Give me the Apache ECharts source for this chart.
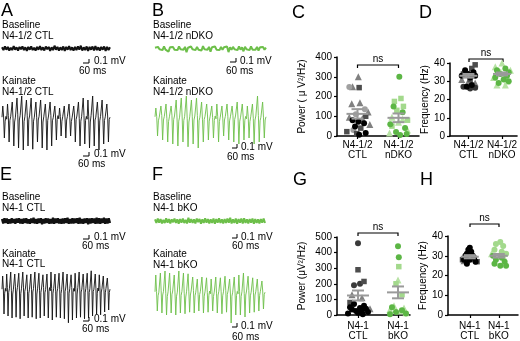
<!DOCTYPE html>
<html>
<head>
<meta charset="utf-8">
<script src="https://cdn.jsdelivr.net/npm/echarts@6/dist/echarts.min.js"></script>
<style>
  html, body { margin: 0; padding: 0; background: #fff; }
  #chart { width: 520px; height: 341px; }
</style>
</head>
<body>
<div id="chart"></div>
<script>
// ---- traces (mV) ----
const aBase = [0.03,-0.04,0.05,-0.03,0.04,-0.05,0.02,-0.04,0.06,-0.03,0.03,-0.05,0.04,-0.02,0.05,-0.04,0.03,-0.06,0.04,-0.03,0.05,-0.04,0.02,-0.05,0.04,-0.03,0.06,-0.04,0.03,-0.05,0.05,-0.02,0.04,-0.06,0.03,-0.04,0.07,-0.03,0.04,-0.05,0.03,-0.04,0.05,-0.06,0.04,-0.03,0.06,-0.04,0.03,-0.05,0.04,-0.04,0.05,-0.03,0.07,-0.05,0.03,-0.04,0.05,-0.06,0.04,-0.03,0.05,-0.05,0.06,-0.04,0.03,-0.05,0.04,-0.03,0.05,-0.06,0.04,-0.04,0.03];
const aKai = [
    0.02,0.3,0.05,-0.5,-0.08,0.04, -0.03,0.35,0.06,-0.6,-0.06,0.03, 0.05,0.4,-0.02,-0.7,-0.1,0.02,
    0.0,0.5,0.08,-0.75,-0.05,0.06, 0.04,0.55,0.0,-0.8,-0.09,0.03, -0.02,0.45,0.07,-0.7,-0.04,0.05,
    0.03,0.5,-0.03,-0.78,-0.08,0.02, 0.06,0.4,0.02,-0.6,-0.05,0.04, -0.01,0.45,0.05,-0.75,-0.1,0.03,
    0.04,0.35,-0.02,-0.8,-0.06,0.05, 0.02,0.4,0.06,-0.7,-0.07,0.01, 0.05,0.3,0.0,-0.55,-0.04,0.06,
    -0.02,0.25,0.04,-0.45,-0.08,0.03, 0.03,0.3,-0.03,-0.5,-0.05,0.04, 0.06,0.35,0.02,-0.45,-0.09,0.02,
    0.0,0.3,0.05,-0.6,-0.04,0.05, 0.04,0.4,-0.01,-0.7,-0.08,0.03, 0.02,0.5,0.06,-0.65,-0.06,0.04,
    -0.03,0.45,0.03,-0.75,-0.1,0.06, 0.05,0.55,0.0,-0.7,-0.05,0.02, 0.01,0.4,0.07,-0.8,-0.07,0.04,
    0.04,0.45,-0.02,-0.65,-0.06,0.03, 0.03,0.35,0.05,-0.6,-0.04,0.02];
const bBase = [0.02,-0.03,0.04,-0.02,0.03,-0.04,0.05,-0.03,0.02,-0.08,0.03,-0.02,0.04,-0.03,0.02,-0.04,0.05,-0.02,0.03,-0.03,0.04,-0.09,0.02,-0.03,0.05,-0.02,0.03,-0.04,0.04,-0.03,0.02,-0.05,0.06,-0.02,0.03,-0.03,0.04,-0.08,0.03,-0.02,0.05,-0.03,0.02,-0.04,0.04,-0.03,0.03,-0.02,0.05,-0.09,0.03,-0.03,0.04,-0.02,0.02,-0.04,0.05,-0.03,0.03,-0.07,0.04,-0.02,0.03,-0.04,0.05,-0.03,0.02,-0.03,0.04,-0.05,0.03,-0.02,0.04,-0.03,0.02];
const bKai = [
    0.03,0.25,0.04,-0.45,-0.07,0.02, -0.02,0.3,0.06,-0.55,-0.05,0.04, 0.05,0.35,-0.01,-0.6,-0.09,0.03,
    0.01,0.3,0.07,-0.65,-0.04,0.05, 0.04,0.45,0.0,-0.7,-0.08,0.02, -0.03,0.5,0.05,-0.6,-0.06,0.04,
    0.02,0.55,-0.02,-0.72,-0.1,0.03, 0.06,0.45,0.03,-0.65,-0.05,0.05, 0.0,0.5,0.06,-0.75,-0.07,0.02,
    0.04,0.4,-0.03,-0.6,-0.04,0.04, 0.03,0.35,0.05,-0.55,-0.08,0.03, 0.05,0.3,0.01,-0.5,-0.06,0.05,
    -0.02,0.35,0.04,-0.6,-0.09,0.02, 0.03,0.3,-0.02,-0.45,-0.05,0.04, 0.06,0.35,0.03,-0.55,-0.07,0.03,
    0.01,0.3,0.06,-0.6,-0.04,0.05, 0.04,0.4,0.0,-0.65,-0.08,0.02, 0.02,0.35,0.05,-0.55,-0.06,0.04,
    -0.02,0.3,0.03,-0.5,-0.09,0.03, 0.05,0.35,-0.01,-0.65,-0.05,0.05, 0.02,0.55,0.06,-0.6,-0.07,0.02,
    0.04,0.4,0.02,-0.5,-0.05,0.03];
const eBase = [0.05,-0.06,0.07,-0.05,0.06,-0.07,0.04,-0.06,0.07,-0.05,0.05,-0.07,0.06,-0.04,0.07,-0.06,0.05,-0.07,0.06,-0.05,0.07,-0.06,0.04,-0.07,0.06,-0.05,0.08,-0.06,0.05,-0.07,0.06,-0.05,0.07,-0.08,0.05,-0.06,0.07,-0.05,0.06,-0.07,0.05,-0.06,0.08,-0.07,0.06,-0.05,0.07,-0.06,0.05,-0.07,0.06,-0.06,0.07,-0.05,0.08,-0.07,0.05,-0.06,0.07,-0.06,0.06,-0.05,0.07,-0.07,0.08,-0.06,0.05,-0.07,0.06,-0.05,0.07,-0.08,0.06,-0.06,0.07,-0.05,0.06,-0.07,0.08,-0.06,0.07,-0.07,0.06,-0.05,0.08,-0.07,0.06,-0.06,0.07,-0.05];
const eKai = [
    0.02,0.35,0.05,-0.6,-0.08,0.04, -0.03,0.4,0.06,-0.65,-0.06,0.03, 0.05,0.45,-0.02,-0.7,-0.1,0.02,
    0.0,0.4,0.08,-0.68,-0.05,0.06, 0.04,0.42,0.0,-0.72,-0.09,0.03, -0.02,0.45,0.07,-0.65,-0.04,0.05,
    0.03,0.38,-0.03,-0.7,-0.08,0.02, 0.06,0.4,0.02,-0.68,-0.05,0.04, -0.01,0.45,0.05,-0.72,-0.1,0.03,
    0.04,0.42,-0.02,-0.7,-0.06,0.05, 0.02,0.38,0.06,-0.65,-0.07,0.01, 0.05,0.4,0.0,-0.7,-0.04,0.06,
    -0.02,0.45,0.04,-0.75,-0.08,0.03, 0.03,0.4,-0.03,-0.68,-0.05,0.04, 0.06,0.42,0.02,-0.7,-0.09,0.02,
    0.0,0.45,0.05,-0.72,-0.04,0.05, 0.04,0.4,-0.01,-0.82,-0.08,0.03, 0.02,0.38,0.06,-0.75,-0.06,0.04,
    -0.03,0.42,0.03,-0.7,-0.1,0.06, 0.05,0.45,0.0,-0.68,-0.05,0.02, 0.01,0.4,0.07,-0.72,-0.07,0.04,
    0.04,0.42,-0.02,-0.7,-0.06,0.03, 0.03,0.48,0.05,-0.65,-0.04,0.02, 0.02,0.4,0.04,-0.6,-0.08,0.05,
    -0.02,0.38,0.06,-0.62,-0.05,0.03, 0.04,0.35,0.01,-0.55,-0.07,0.04, 0.03,0.3,0.05,-0.5,-0.06,0.02];
const fBase = [0.04,-0.05,0.06,-0.04,0.05,-0.06,0.03,-0.05,0.07,-0.04,0.05,-0.06,0.04,-0.03,0.06,-0.05,0.04,-0.07,0.05,-0.04,0.06,-0.05,0.03,-0.06,0.08,-0.04,0.05,-0.05,0.04,-0.06,0.06,-0.03,0.05,-0.07,0.04,-0.05,0.07,-0.04,0.05,-0.06,0.04,-0.05,0.06,-0.07,0.05,-0.04,0.07,-0.05,0.04,-0.06,0.05,-0.05,0.06,-0.04,0.08,-0.06,0.04,-0.05,0.06,-0.07,0.05,-0.04,0.06,-0.06,0.07,-0.05,0.04,-0.06,0.05,-0.04,0.06,-0.07,0.05,-0.05,0.04,-0.06,0.05,-0.04,0.06,-0.05];
const fKai = [
    0.03,0.45,0.04,-0.45,-0.07,0.02, -0.02,0.5,0.06,-0.5,-0.05,0.04, 0.05,0.55,-0.01,-0.55,-0.09,0.03,
    0.01,0.5,0.07,-0.5,-0.04,0.05, 0.04,0.45,0.0,-0.55,-0.08,0.02, -0.03,0.55,0.05,-0.5,-0.06,0.04,
    0.02,0.5,-0.02,-0.52,-0.1,0.03, 0.06,0.48,0.03,-0.48,-0.05,0.05, 0.0,0.4,0.06,-0.5,-0.07,0.02,
    0.04,0.35,-0.03,-0.45,-0.04,0.04, 0.03,0.4,0.05,-0.5,-0.08,0.03, 0.05,0.38,0.01,-0.48,-0.06,0.05,
    -0.02,0.35,0.04,-0.45,-0.09,0.02, 0.03,0.4,-0.02,-0.5,-0.05,0.04, 0.06,0.38,0.03,-0.52,-0.07,0.03,
    0.01,0.42,0.06,-0.48,-0.04,0.05, 0.04,0.35,0.0,-0.75,-0.08,0.02, 0.02,0.4,0.05,-0.55,-0.06,0.04,
    -0.02,0.45,0.03,-0.55,-0.09,0.03, 0.05,0.5,-0.01,-0.6,-0.05,0.05, 0.02,0.42,0.06,-0.5,-0.07,0.02,
    0.04,0.38,0.02,-0.48,-0.05,0.03, 0.03,0.35,0.04,-0.45,-0.06,0.04, 0.01,0.3,0.05,-0.4,-0.04,0.02];

// ---- C: power, N4-1/2 (values + horizontal jitter) ----
const cCtlBlack = [80, 72, 65, 48, 15, 6];
const cCtlBlackJit = [-0.12, 0.02, 0.16, -0.06, 0.2, 0.04];
const cCtlSquare = [245, 100, 40, 22, 12];
const cCtlSquareJit = [0.04, 0.2, 0.08, -0.26, -0.02];
const cCtlTri = [300, 250, 168, 163, 122, 95, 88, 58];
const cCtlTriJit = [0.02, -0.12, 0.06, -0.14, 0.26, -0.2, 0.12, 0.3];
const cCtlGray = [248, 135, 110, 30];
const cCtlGrayJit = [-0.2, 0.18, -0.04, -0.1];
const cKoCircle = [300, 150, 120, 60, 40, 20, 10, 5];
const cKoCircleJit = [0.02, -0.12, 0.1, -0.2, 0.16, -0.06, 0.2, 0.04];
const cKoSquare = [190, 175, 150, 130, 80, 50];
const cKoSquareJit = [0.06, -0.1, 0.12, -0.04, 0.22, -0.16];
const cKoTri = [95, 85, 70, 30, 15];
const cKoTriJit = [-0.16, 0.1, 0.0, 0.22, -0.22];
const cMean = [112, 92];
const cSem = [24, 22];

// ---- D: frequency, N4-1/2 ----
const dCtlBlack = [36, 35, 34, 33, 33, 32, 28, 27];
const dCtlBlackJit = [-0.1, 0.15, 0.0, -0.2, 0.2, 0.05, 0.1, -0.05];
const dCtlSquare = [39, 37, 34, 31];
const dCtlSquareJit = [0.2, 0.1, -0.15, 0.05];
const dCtlTri = [31, 30, 29];
const dCtlTriJit = [-0.2, 0.0, 0.2];
const dCtlGray = [27, 26, 26.5];
const dCtlGrayJit = [-0.15, 0.05, 0.2];
const dKoCircle = [37, 36, 35, 34, 33, 32, 31, 30, 29];
const dKoCircleJit = [0.1, -0.15, 0.2, -0.05, 0.15, -0.2, 0.05, 0.2, -0.1];
const dKoTri = [40, 38, 36, 32, 30, 28, 28];
const dKoTriJit = [0.0, -0.2, 0.25, -0.25, 0.15, -0.15, 0.1];
const dKoSquare = [35, 33];
const dKoSquareJit = [-0.1, 0.1];
const dMean = [33, 34];
const dSem = [1, 0.8];

// ---- G: power, N4-1 ----
const gCtlBlack = [70, 60, 50, 45, 40, 35, 30, 25, 20, 15, 10, 5];
const gCtlBlackJit = [-0.1, 0.15, -0.2, 0.05, 0.2, -0.15, 0.1, -0.05, 0.25, 0.0, -0.25, 0.12];
const gCtlSquare = [290, 215, 80];
const gCtlSquareJit = [0.0, 0.15, -0.2];
const gCtlGray = [460, 200, 190];
const gCtlGrayJit = [0.0, 0.05, -0.1];
const gCtlTri = [130, 110, 40];
const gCtlTriJit = [-0.15, 0.1, 0.3];
const gKoCircle = [440, 370, 50, 30, 20, 10, 5];
const gKoCircleJit = [0.0, 0.02, -0.15, 0.1, -0.05, 0.2, -0.2];
const gKoSquare = [310, 200, 130];
const gKoSquareJit = [0.02, -0.05, 0.1];
const gKoTri = [225, 60, 45, 35, 25, 15];
const gKoTriJit = [0.0, -0.1, 0.15, -0.2, 0.05, 0.2];
const gMean = [125, 145];
const gSem = [32, 38];

// ---- H: frequency, N4-1 ----
const hCtlBlack = [34, 33, 32, 31, 30, 30, 29, 28, 28, 27, 26];
const hCtlBlackJit = [0.0, -0.05, 0.05, -0.1, 0.1, -0.15, 0.15, -0.2, 0.0, 0.2, -0.1];
const hCtlSquare = [28, 27, 27];
const hCtlSquareJit = [-0.25, 0.25, -0.1];
const hCtlTri = [28.5, 27.5];
const hCtlTriJit = [0.1, -0.2];
const hKoLight = [37, 36, 35, 33, 32, 31];
const hKoLightJit = [0.05, -0.1, 0.15, -0.15, 0.1, 0.25];
const hKoCircle = [30, 29, 28, 27, 26, 25, 25];
const hKoCircleJit = [-0.2, 0.1, -0.1, 0.2, -0.15, 0.05, 0.25];
const hKoTri = [31, 30];
const hKoTriJit = [-0.25, 0.15];
const hMean = [29.5, 30];
const hSem = [0.8, 0.9];

const FONT = '"Liberation Sans", Arial, sans-serif';
const BLACK = '#111';
const GREEN = '#6dbf4a';
const C_BLACK = '#000', C_DARK = '#4d4d4d', C_TRI = '#808080', C_GRAY = '#a0a0a0';
const G_DARK = '#5cb645', G_LIGHT = '#a3d98c', G_TRI = '#b7e2a4';

const grids = [], xAxes = [], yAxes = [], series = [];
const PX_PER_MV = 40;

function addTrace(data, color, left, width, zeroY, lo, hi, lw) {
    const i = grids.length;
    grids.push({ left: left, width: width, top: zeroY - hi * PX_PER_MV, height: (hi - lo) * PX_PER_MV });
    xAxes.push({ gridIndex: i, type: 'category', show: false, boundaryGap: false, data: data.map((_, k) => k) });
    yAxes.push({ gridIndex: i, type: 'value', show: false, min: lo, max: hi });
    series.push({ type: 'line', xAxisIndex: i, yAxisIndex: i, data: data, symbol: 'none', silent: true,
        lineStyle: { color: color, width: lw || 0.9 } });
}

addTrace(aBase, BLACK, 2, 108, 48.5, -0.2, 0.2, 2);
addTrace(aKai, BLACK, 2, 108, 118, -1, 0.7, 0.9);
addTrace(bBase, GREEN, 155, 111, 48.5, -0.2, 0.2, 2);
addTrace(bKai, GREEN, 155, 111, 118, -1, 0.7, 0.9);
addTrace(eBase, BLACK, 2, 108, 221, -0.2, 0.2, 2.2);
addTrace(eKai, BLACK, 2, 108, 290, -1, 0.7, 0.9);
addTrace(fBase, GREEN, 155, 110, 221, -0.2, 0.2, 2);
addTrace(fKai, GREEN, 155, 110, 293, -1, 0.7, 0.9);

function addPanel(cfg) {
    const i = grids.length;
    grids.push(cfg.grid);
    xAxes.push({
        gridIndex: i, type: 'value', min: cfg.xmin, max: cfg.xmax,
        axisLine: { show: true, onZero: false, lineStyle: { color: '#000', width: 1.5 } },
        axisTick: { show: true, customValues: [1, 2], length: 3, lineStyle: { color: '#000', width: 1.2 } },
        axisLabel: { customValues: [1, 2], formatter: v => cfg.cats[Math.round(v) - 1],
            fontSize: 10, lineHeight: 10, color: '#000', margin: cfg.labelMargin, fontFamily: FONT },
        splitLine: { show: false }
    });
    yAxes.push({
        gridIndex: i, type: 'value', min: 0, max: cfg.ymax, interval: cfg.yint,
        axisLine: { show: true, onZero: false, lineStyle: { color: '#000', width: 1.5 } },
        axisTick: { show: true, length: 3, lineStyle: { color: '#000', width: 1.2 } },
        axisLabel: { fontSize: 10, color: '#000', margin: 5, fontFamily: FONT },
        splitLine: { show: false },
        name: cfg.name, nameLocation: 'middle', nameGap: cfg.nameGap,
        nameTextStyle: { fontSize: 10, color: '#000', fontFamily: FONT }
    });
    cfg.points.forEach(p => {
        series.push({
            type: 'scatter', xAxisIndex: i, yAxisIndex: i, silent: true,
            symbol: p.symbol, symbolSize: p.size,
            itemStyle: { color: p.color, opacity: 1 },
            data: p.vals.map((v, k) => [p.grp + p.jit[k], v])
        });
    });
    series.push({
        type: 'custom', xAxisIndex: i, yAxisIndex: i, silent: true, z: 10,
        data: cfg.mean.map((m, k) => [k + 1, m, cfg.sem[k]]),
        renderItem: (params, api) => {
            const x = api.value(0), m = api.value(1), s = api.value(2);
            const pm = api.coord([x, m]), pt = api.coord([x, m + s]), pb = api.coord([x, m - s]);
            const hw = cfg.meanHalf, cw = cfg.capHalf;
            const st = { stroke: '#9a9a9a', lineWidth: 2 };
            return { type: 'group', children: [
                { type: 'line', shape: { x1: pm[0] - hw, y1: pm[1], x2: pm[0] + hw, y2: pm[1] }, style: st },
                { type: 'line', shape: { x1: pt[0], y1: pt[1], x2: pb[0], y2: pb[1] }, style: st },
                { type: 'line', shape: { x1: pt[0] - cw, y1: pt[1], x2: pt[0] + cw, y2: pt[1] }, style: st },
                { type: 'line', shape: { x1: pb[0] - cw, y1: pb[1], x2: pb[0] + cw, y2: pb[1] }, style: st }
            ] };
        }
    });
}

addPanel({
    grid: { left: 337, top: 57, width: 82, height: 79 }, xmin: 0.5, xmax: 2.5,
    ymax: 400, yint: 100, cats: ['N4-1/2\nCTL', 'N4-1/2\nnDKO'], labelMargin: 4,
    name: 'Power ( μ V²/Hz)', nameGap: 30, mean: cMean, sem: cSem, meanHalf: 11, capHalf: 6,
    points: [
        { vals: cCtlTri, jit: cCtlTriJit, grp: 1, symbol: 'triangle', size: 7, color: C_TRI },
        { vals: cCtlGray, jit: cCtlGrayJit, grp: 1, symbol: 'circle', size: 6, color: C_GRAY },
        { vals: cCtlSquare, jit: cCtlSquareJit, grp: 1, symbol: 'rect', size: 5.5, color: C_DARK },
        { vals: cCtlBlack, jit: cCtlBlackJit, grp: 1, symbol: 'circle', size: 6, color: C_BLACK },
        { vals: cKoTri, jit: cKoTriJit, grp: 2, symbol: 'triangle', size: 7, color: G_TRI },
        { vals: cKoSquare, jit: cKoSquareJit, grp: 2, symbol: 'rect', size: 5.5, color: G_LIGHT },
        { vals: cKoCircle, jit: cKoCircleJit, grp: 2, symbol: 'circle', size: 6, color: G_DARK }
    ]
});
addPanel({
    grid: { left: 450, top: 63, width: 68, height: 73 }, xmin: 0.45, xmax: 2.45,
    ymax: 40, yint: 10, cats: ['N4-1/2\nCTL', 'N4-1/2\nnDKO'], labelMargin: 4,
    name: 'Frequency (Hz)', nameGap: 19, mean: dMean, sem: dSem, meanHalf: 9, capHalf: 6,
    points: [
        { vals: dCtlTri, jit: dCtlTriJit, grp: 1, symbol: 'triangle', size: 7, color: C_TRI },
        { vals: dCtlGray, jit: dCtlGrayJit, grp: 1, symbol: 'circle', size: 6, color: '#333' },
        { vals: dCtlSquare, jit: dCtlSquareJit, grp: 1, symbol: 'rect', size: 5.5, color: C_DARK },
        { vals: dCtlBlack, jit: dCtlBlackJit, grp: 1, symbol: 'circle', size: 6, color: C_BLACK },
        { vals: dKoTri, jit: dKoTriJit, grp: 2, symbol: 'triangle', size: 7, color: G_TRI },
        { vals: dKoSquare, jit: dKoSquareJit, grp: 2, symbol: 'rect', size: 5.5, color: G_LIGHT },
        { vals: dKoCircle, jit: dKoCircleJit, grp: 2, symbol: 'circle', size: 6, color: G_DARK }
    ]
});
addPanel({
    grid: { left: 337, top: 237, width: 73, height: 79 }, xmin: 0.475, xmax: 2.3,
    ymax: 500, yint: 100, cats: ['N4-1\nCTL', 'N4-1\nbKO'], labelMargin: 6,
    name: 'Power (μV²/Hz)', nameGap: 30, mean: gMean, sem: gSem, meanHalf: 11, capHalf: 6,
    points: [
        { vals: gCtlTri, jit: gCtlTriJit, grp: 1, symbol: 'triangle', size: 7, color: C_TRI },
        { vals: gCtlGray, jit: gCtlGrayJit, grp: 1, symbol: 'circle', size: 6, color: '#3a3a3a' },
        { vals: gCtlSquare, jit: gCtlSquareJit, grp: 1, symbol: 'rect', size: 5.5, color: C_DARK },
        { vals: gCtlBlack, jit: gCtlBlackJit, grp: 1, symbol: 'circle', size: 6, color: C_BLACK },
        { vals: gKoTri, jit: gKoTriJit, grp: 2, symbol: 'triangle', size: 7, color: G_TRI },
        { vals: gKoSquare, jit: gKoSquareJit, grp: 2, symbol: 'rect', size: 5.5, color: G_LIGHT },
        { vals: gKoCircle, jit: gKoCircleJit, grp: 2, symbol: 'circle', size: 6, color: G_DARK }
    ]
});
addPanel({
    grid: { left: 448, top: 236, width: 70, height: 81 }, xmin: 0.25, xmax: 2.66,
    ymax: 40, yint: 10, cats: ['N4-1\nCTL', 'N4-1\nbKO'], labelMargin: 6,
    name: 'Frequency (Hz)', nameGap: 18, mean: hMean, sem: hSem, meanHalf: 9, capHalf: 6,
    points: [
        { vals: hCtlTri, jit: hCtlTriJit, grp: 1, symbol: 'triangle', size: 7, color: C_TRI },
        { vals: hCtlSquare, jit: hCtlSquareJit, grp: 1, symbol: 'rect', size: 5.5, color: C_DARK },
        { vals: hCtlBlack, jit: hCtlBlackJit, grp: 1, symbol: 'circle', size: 6, color: C_BLACK },
        { vals: hKoTri, jit: hKoTriJit, grp: 2, symbol: 'triangle', size: 7, color: G_TRI },
        { vals: hKoLight, jit: hKoLightJit, grp: 2, symbol: 'circle', size: 6, color: G_LIGHT },
        { vals: hKoCircle, jit: hKoCircleJit, grp: 2, symbol: 'circle', size: 6, color: G_DARK }
    ]
});

// ---- annotations: panel letters, labels, scale bars, brackets ----
const graphic = [];
function txt(x, y, s, size, align) {
    graphic.push({ type: 'text', x: x, y: y, silent: true, style: {
        text: s, fontSize: size || 10, fontFamily: FONT, fill: '#000',
        align: align || 'left', verticalAlign: 'middle', textAlign: align || 'left', textVerticalAlign: 'middle' } });
}
function scaleBar(xl, xr, yt, yb, textX, mvY, msX, msY) {
    graphic.push({ type: 'polyline', silent: true, shape: { points: [[xl, yb], [xr, yb], [xr, yt]] },
        style: { stroke: '#000', lineWidth: 1, fill: null } });
    txt(textX, mvY, '0.1 mV');
    txt(msX, msY, '60 ms');
}
function bracket(x1, x2, y) {
    graphic.push({ type: 'polyline', silent: true, shape: { points: [[x1, y + 3], [x1, y], [x2, y], [x2, y + 3]] },
        style: { stroke: '#000', lineWidth: 1.2, fill: null } });
    txt((x1 + x2) / 2, y - 6, 'ns', 10, 'center');
}

[['A', 1, 11.5], ['B', 152, 11.5], ['C', 292, 13.5], ['D', 419, 13.5],
 ['E', 0, 175.5], ['F', 152, 175.5], ['G', 293, 180], ['H', 420, 180]]
    .forEach(l => txt(l[1], l[2], l[0], 18));

txt(2, 25, 'Baseline'); txt(2, 36, 'N4-1/2 CTL');
txt(2, 81, 'Kainate'); txt(2, 92, 'N4-1/2 CTL');
scaleBar(83, 89, 59, 63, 94, 61, 79, 71);
scaleBar(83, 89, 152, 156, 94, 154, 78, 164);

txt(153, 25, 'Baseline'); txt(153, 36, 'N4-1/2 nDKO');
txt(153, 81, 'Kainate'); txt(153, 92, 'N4-1/2 nDKO');
scaleBar(230, 236, 58, 62, 240, 61, 226, 71);
scaleBar(232, 237, 144, 148, 241, 147, 227, 157);

txt(2, 197, 'Baseline'); txt(2, 208, 'N4-1 CTL');
txt(2, 254, 'Kainate'); txt(2, 264, 'N4-1 CTL');
scaleBar(83, 89, 235, 239, 94, 237, 82, 246);
scaleBar(83, 89, 317, 321, 94, 319, 82, 329);

txt(153, 197, 'Baseline'); txt(153, 208, 'N4-1 bKO');
txt(153, 254, 'Kainate'); txt(153, 265, 'N4-1 bKO');
scaleBar(232, 237, 234, 238, 241, 237, 232, 246);
scaleBar(232, 237, 323, 327, 241, 326, 232, 337);

bracket(357.5, 398.5, 65);
bracket(469, 503, 59);
bracket(358, 398, 233);
bracket(470, 499, 224);

const chart = echarts.init(document.getElementById('chart'), null, { renderer: 'canvas' });
chart.setOption({
    animation: false,
    backgroundColor: '#fff',
    textStyle: { fontFamily: FONT },
    grid: grids,
    xAxis: xAxes,
    yAxis: yAxes,
    series: series,
    graphic: graphic
});
</script>
</body>
</html>
